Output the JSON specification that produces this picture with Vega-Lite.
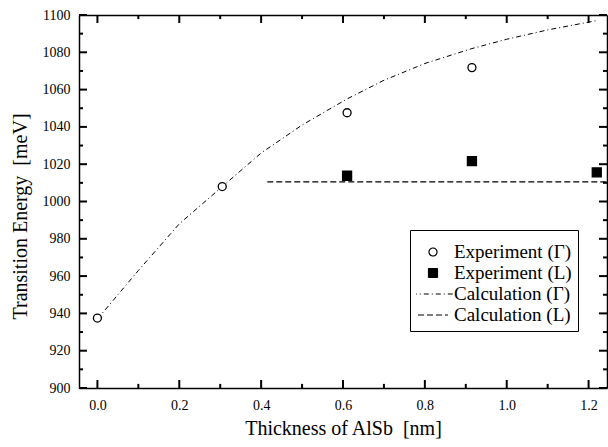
{
  "$schema": "https://vega.github.io/schema/vega-lite/v6.json",
  "width": 528,
  "height": 373,
  "autosize": {"type": "none"},
  "padding": {"left": 79, "top": 15, "right": 1, "bottom": 59},
  "background": "white",
  "datasets": {
    "pts": [
      {"series": "Calculation (Γ)", "x": 0, "y": 937},
      {"series": "Calculation (Γ)", "x": 0.1, "y": 963},
      {"series": "Calculation (Γ)", "x": 0.2, "y": 988},
      {"series": "Calculation (Γ)", "x": 0.305, "y": 1008},
      {"series": "Calculation (Γ)", "x": 0.4, "y": 1026},
      {"series": "Calculation (Γ)", "x": 0.5, "y": 1041},
      {"series": "Calculation (Γ)", "x": 0.61, "y": 1055},
      {"series": "Calculation (Γ)", "x": 0.7, "y": 1065},
      {"series": "Calculation (Γ)", "x": 0.8, "y": 1074},
      {"series": "Calculation (Γ)", "x": 0.915, "y": 1082},
      {"series": "Calculation (Γ)", "x": 1.0, "y": 1087},
      {"series": "Calculation (Γ)", "x": 1.1, "y": 1092},
      {"series": "Calculation (Γ)", "x": 1.22, "y": 1097},
      {"series": "Calculation (L)", "x": 0.415, "y": 1010.5},
      {"series": "Calculation (L)", "x": 1.245, "y": 1010.5},
      {"series": "Experiment (Γ)", "x": 0, "y": 937.5},
      {"series": "Experiment (Γ)", "x": 0.305, "y": 1008},
      {"series": "Experiment (Γ)", "x": 0.61, "y": 1047.6},
      {"series": "Experiment (Γ)", "x": 0.915, "y": 1071.8},
      {"series": "Experiment (L)", "x": 0.61, "y": 1013.8},
      {"series": "Experiment (L)", "x": 0.915, "y": 1021.7},
      {"series": "Experiment (L)", "x": 1.22, "y": 1015.6}
    ],
    "xticks": [
      {"v": 0, "major": true}, {"v": 0.1, "major": false}, {"v": 0.2, "major": true}, {"v": 0.3, "major": false},
      {"v": 0.4, "major": true}, {"v": 0.5, "major": false}, {"v": 0.6, "major": true}, {"v": 0.7, "major": false},
      {"v": 0.8, "major": true}, {"v": 0.9, "major": false}, {"v": 1.0, "major": true}, {"v": 1.1, "major": false},
      {"v": 1.2, "major": true}
    ],
    "yticks": [
      {"v": 900, "major": true}, {"v": 910, "major": false}, {"v": 920, "major": true}, {"v": 930, "major": false},
      {"v": 940, "major": true}, {"v": 950, "major": false}, {"v": 960, "major": true}, {"v": 970, "major": false},
      {"v": 980, "major": true}, {"v": 990, "major": false}, {"v": 1000, "major": true}, {"v": 1010, "major": false},
      {"v": 1020, "major": true}, {"v": 1030, "major": false}, {"v": 1040, "major": true}, {"v": 1050, "major": false},
      {"v": 1060, "major": true}, {"v": 1070, "major": false}, {"v": 1080, "major": true}, {"v": 1090, "major": false},
      {"v": 1100, "major": true}
    ]
  },
  "data": {"name": "pts"},
  "config": {
    "view": {"stroke": null},
    "font": "Liberation Serif",
    "axis": {
      "grid": false,
      "domainColor": "black",
      "domainWidth": 1.5,
      "ticks": false,
      "tickSize": 0,
      "labelColor": "black",
      "labelOverlap": false,
      "labelFlush": false,
      "titleFontWeight": "normal",
      "titleColor": "black"
    }
  },
  "resolve": {"axis": {"x": "independent", "y": "independent"}},
  "layer": [
    {
      "transform": [{"filter": "datum.series === 'Calculation (Γ)'"}],
      "mark": {"type": "line", "color": "black", "strokeWidth": 1},
      "encoding": {
        "x": {
          "field": "x", "type": "quantitative",
          "scale": {"domain": [-0.045, 1.245], "nice": false, "zero": false},
          "axis": {
            "orient": "bottom",
            "title": "Thickness of AlSb\u00a0 [nm]",
            "values": [0, 0.2, 0.4, 0.6, 0.8, 1.0, 1.2],
            "format": ".1f",
            "labelFont": "Liberation Serif", "labelFontSize": 14,
            "titleFont": "Liberation Serif", "titleFontSize": 20,
            "labelPadding": 10,
            "titlePadding": 6
          }
        },
        "y": {
          "field": "y", "type": "quantitative",
          "scale": {"domain": [900, 1100], "nice": false, "zero": false},
          "axis": {
            "orient": "left",
            "title": "Transition Energy\u00a0 [meV]",
            "values": [900, 920, 940, 960, 980, 1000, 1020, 1040, 1060, 1080, 1100],
            "format": "d",
            "labelFont": "Liberation Serif", "labelFontSize": 14,
            "titleFont": "Liberation Serif", "titleFontSize": 20,
            "labelPadding": 9,
            "titleX": -59,
            "titleY": 201,
            "titleBaseline": "middle"
          }
        },
        "strokeDash": {
          "field": "series", "type": "nominal",
          "scale": {"domain": ["Experiment (Γ)", "Experiment (L)", "Calculation (Γ)", "Calculation (L)"], "range": [[1, 0], [1, 0], [5, 3, 1, 3], [6, 3]]},
          "legend": {"title": "\u00a0", "titleFontSize": 6, "titlePadding": 0, "orient": "none", "legendX": 331, "legendY": 215, "padding": 6, "strokeColor": "black", "fillColor": "white", "clipHeight": 20, "rowPadding": 1, "labelFont": "Liberation Serif", "labelFontSize": 19, "labelColor": "black", "symbolStrokeColor": "black", "symbolStrokeWidth": 1, "symbolOffset": -5, "labelOffset": -1, "labelLimit": 300, "encode": {"symbols": {"update": {"stroke": {"value": "black"}, "strokeWidth": {"value": 1.2}}}}}
        }
      }
    },
    {
      "transform": [{"filter": "datum.series === 'Calculation (L)'"}],
      "mark": {"type": "line", "color": "black", "strokeWidth": 1.3},
      "encoding": {
        "x": {
          "field": "x", "type": "quantitative",
          "axis": {"orient": "top", "title": null, "labels": false, "values": [0, 0.2, 0.4, 0.6, 0.8, 1.0, 1.2]}
        },
        "y": {
          "field": "y", "type": "quantitative",
          "axis": {"orient": "right", "title": null, "labels": false, "values": [900, 1000, 1100]}
        },
        "strokeDash": {
          "field": "series", "type": "nominal",
          "legend": {"title": "\u00a0", "titleFontSize": 6, "titlePadding": 0, "orient": "none", "legendX": 331, "legendY": 215, "padding": 6, "strokeColor": "black", "fillColor": "white", "clipHeight": 20, "rowPadding": 1, "labelFont": "Liberation Serif", "labelFontSize": 19, "labelColor": "black", "symbolStrokeColor": "black", "symbolStrokeWidth": 1, "symbolOffset": -5, "labelOffset": -1, "labelLimit": 300, "encode": {"symbols": {"update": {"stroke": {"value": "black"}, "strokeWidth": {"value": 1.2}}}}}
        }
      }
    },
    {
      "transform": [{"filter": "indexof(datum.series, 'Experiment') === 0"}],
      "mark": {"type": "point", "filled": true, "stroke": "black", "strokeWidth": 1.3, "opacity": 1},
      "encoding": {
        "x": {"field": "x", "type": "quantitative", "axis": null},
        "y": {"field": "y", "type": "quantitative", "axis": null},
        "shape": {
          "field": "series", "type": "nominal",
          "scale": {"domain": ["Experiment (Γ)", "Experiment (L)", "Calculation (Γ)", "Calculation (L)"], "range": ["circle", "square", "stroke", "stroke"]},
          "legend": {"title": "\u00a0", "titleFontSize": 6, "titlePadding": 0, "orient": "none", "legendX": 331, "legendY": 215, "padding": 6, "strokeColor": "black", "fillColor": "white", "clipHeight": 20, "rowPadding": 1, "labelFont": "Liberation Serif", "labelFontSize": 19, "labelColor": "black", "symbolStrokeColor": "black", "symbolStrokeWidth": 1, "symbolOffset": -5, "labelOffset": -1, "labelLimit": 300, "encode": {"symbols": {"update": {"stroke": {"value": "black"}, "strokeWidth": {"value": 1.2}}}}}
        },
        "fill": {
          "field": "series", "type": "nominal",
          "scale": {"domain": ["Experiment (Γ)", "Experiment (L)", "Calculation (Γ)", "Calculation (L)"], "range": ["white", "black", "transparent", "transparent"]},
          "legend": {"title": "\u00a0", "titleFontSize": 6, "titlePadding": 0, "orient": "none", "legendX": 331, "legendY": 215, "padding": 6, "strokeColor": "black", "fillColor": "white", "clipHeight": 20, "rowPadding": 1, "labelFont": "Liberation Serif", "labelFontSize": 19, "labelColor": "black", "symbolStrokeColor": "black", "symbolStrokeWidth": 1, "symbolOffset": -5, "labelOffset": -1, "labelLimit": 300, "encode": {"symbols": {"update": {"stroke": {"value": "black"}, "strokeWidth": {"value": 1.2}}}}}
        },
        "size": {
          "field": "series", "type": "nominal",
          "scale": {"type": "ordinal", "domain": ["Experiment (Γ)", "Experiment (L)", "Calculation (Γ)", "Calculation (L)"], "range": [64, 81, 1800, 900]},
          "legend": {"title": "\u00a0", "titleFontSize": 6, "titlePadding": 0, "orient": "none", "legendX": 331, "legendY": 215, "padding": 6, "strokeColor": "black", "fillColor": "white", "clipHeight": 20, "rowPadding": 1, "labelFont": "Liberation Serif", "labelFontSize": 19, "labelColor": "black", "symbolStrokeColor": "black", "symbolStrokeWidth": 1, "symbolOffset": -5, "labelOffset": -1, "labelLimit": 300, "encode": {"symbols": {"update": {"stroke": {"value": "black"}, "strokeWidth": {"value": 1.2}}}}}
        }
      }
    },
    {
      "data": {"name": "xticks"},
      "transform": [{"filter": "datum.major"}],
      "mark": {"type": "rule", "color": "black", "strokeWidth": 2, "strokeCap": "butt"},
      "encoding": {
        "x": {"field": "v", "type": "quantitative", "axis": null},
        "y": {"datum": 900, "type": "quantitative", "axis": null},
        "y2": {"datum": 904.3}
      }
    },
    {
      "data": {"name": "xticks"},
      "transform": [{"filter": "!datum.major"}],
      "mark": {"type": "rule", "color": "black", "strokeWidth": 2, "strokeCap": "butt"},
      "encoding": {
        "x": {"field": "v", "type": "quantitative", "axis": null},
        "y": {"datum": 900, "type": "quantitative", "axis": null},
        "y2": {"datum": 902.2}
      }
    },
    {
      "data": {"name": "xticks"},
      "transform": [{"filter": "datum.major"}],
      "mark": {"type": "rule", "color": "black", "strokeWidth": 2, "strokeCap": "butt"},
      "encoding": {
        "x": {"field": "v", "type": "quantitative", "axis": null},
        "y": {"datum": 1100, "type": "quantitative", "axis": null},
        "y2": {"datum": 1095.7}
      }
    },
    {
      "data": {"name": "xticks"},
      "transform": [{"filter": "!datum.major"}],
      "mark": {"type": "rule", "color": "black", "strokeWidth": 2, "strokeCap": "butt"},
      "encoding": {
        "x": {"field": "v", "type": "quantitative", "axis": null},
        "y": {"datum": 1100, "type": "quantitative", "axis": null},
        "y2": {"datum": 1097.8}
      }
    },
    {
      "data": {"name": "yticks"},
      "transform": [{"filter": "datum.major"}],
      "mark": {"type": "rule", "color": "black", "strokeWidth": 2, "strokeCap": "butt"},
      "encoding": {
        "y": {"field": "v", "type": "quantitative", "axis": null},
        "x": {"datum": -0.045, "type": "quantitative", "axis": null},
        "x2": {"datum": -0.0255}
      }
    },
    {
      "data": {"name": "yticks"},
      "transform": [{"filter": "!datum.major"}],
      "mark": {"type": "rule", "color": "black", "strokeWidth": 2, "strokeCap": "butt"},
      "encoding": {
        "y": {"field": "v", "type": "quantitative", "axis": null},
        "x": {"datum": -0.045, "type": "quantitative", "axis": null},
        "x2": {"datum": -0.0352}
      }
    },
    {
      "data": {"name": "yticks"},
      "transform": [{"filter": "datum.major"}],
      "mark": {"type": "rule", "color": "black", "strokeWidth": 2, "strokeCap": "butt"},
      "encoding": {
        "y": {"field": "v", "type": "quantitative", "axis": null},
        "x": {"datum": 1.245, "type": "quantitative", "axis": null},
        "x2": {"datum": 1.2255}
      }
    },
    {
      "data": {"name": "yticks"},
      "transform": [{"filter": "!datum.major"}],
      "mark": {"type": "rule", "color": "black", "strokeWidth": 2, "strokeCap": "butt"},
      "encoding": {
        "y": {"field": "v", "type": "quantitative", "axis": null},
        "x": {"datum": 1.245, "type": "quantitative", "axis": null},
        "x2": {"datum": 1.2352}
      }
    }
  ]
}
